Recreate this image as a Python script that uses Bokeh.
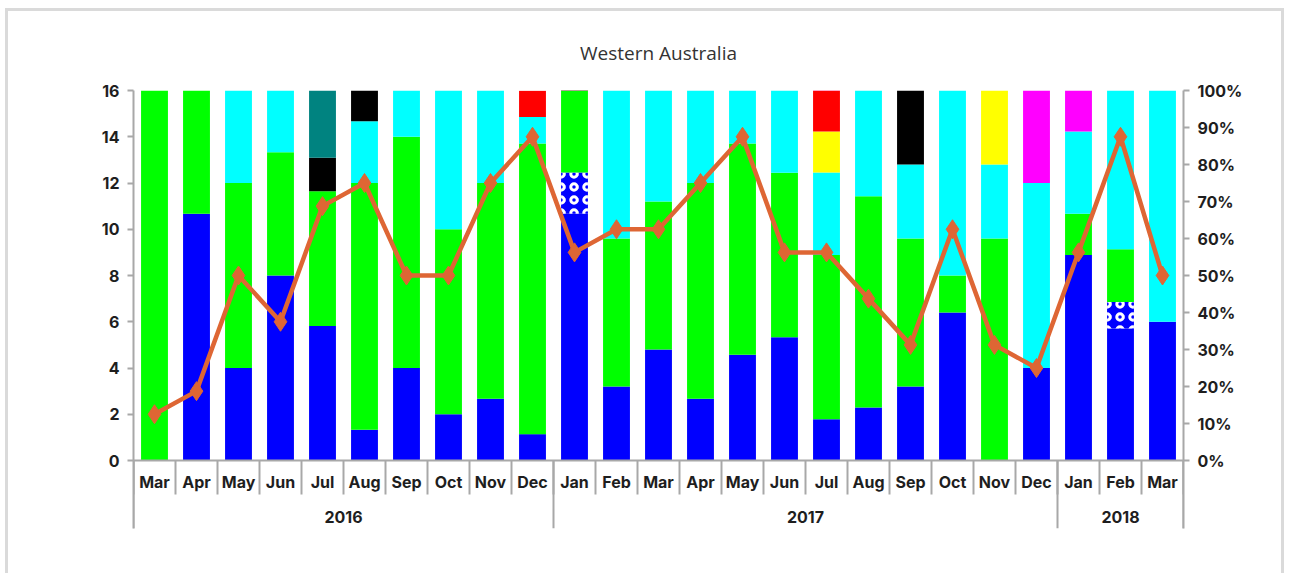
from bokeh.plotting import figure
from bokeh.models import Range1d, LinearAxis, FixedTicker, PrintfTickFormatter, ColumnDataSource
from bokeh.core.properties import value
from bokeh.embed import file_html
from bokeh.resources import INLINE

# ---------------- data ----------------
title_text = "Western Australia"
months = ["Mar", "Apr", "May", "Jun", "Jul", "Aug", "Sep", "Oct", "Nov", "Dec",
          "Jan", "Feb", "Mar", "Apr", "May", "Jun", "Jul", "Aug", "Sep", "Oct", "Nov", "Dec",
          "Jan", "Feb", "Mar"]
years = ["2016", "2017", "2018"]
year_counts = [10, 12, 3]

blue = [0, 10.67, 4, 8, 5.82, 1.33, 4, 2, 2.67, 1.14,
        10.67, 3.2, 4.8, 2.67, 4.57, 5.33, 1.78, 2.29, 3.2, 6.4, 0, 4,
        8.89, 5.71, 6]
checker = [0, 0, 0, 0, 0, 0, 0, 0, 0, 0,
           1.78, 0, 0, 0, 0, 0, 0, 0, 0, 0, 0, 0,
           0, 1.14, 0]
green = [16, 5.33, 8, 5.33, 5.82, 10.67, 10, 8, 9.33, 12.57,
         3.56, 6.4, 6.4, 9.33, 9.14, 7.11, 7.11, 9.14, 6.4, 1.6, 9.6, 0,
         1.78, 2.29, 0]
cyan = [0, 0, 4, 2.67, 0, 2.67, 2, 6, 4, 1.14,
        0, 6.4, 4.8, 4, 2.29, 3.56, 3.56, 4.57, 3.2, 8, 3.2, 8,
        3.56, 6.86, 10]
black = [0, 0, 0, 0, 1.45, 1.33, 0, 0, 0, 0,
         0, 0, 0, 0, 0, 0, 0, 0, 3.2, 0, 0, 0,
         0, 0, 0]
teal = [0, 0, 0, 0, 2.91, 0, 0, 0, 0, 0,
        0, 0, 0, 0, 0, 0, 0, 0, 0, 0, 0, 0,
        0, 0, 0]
yellow = [0, 0, 0, 0, 0, 0, 0, 0, 0, 0,
          0, 0, 0, 0, 0, 0, 1.78, 0, 0, 0, 3.2, 0,
          0, 0, 0]
red = [0, 0, 0, 0, 0, 0, 0, 0, 0, 1.14,
       0, 0, 0, 0, 0, 0, 1.78, 0, 0, 0, 0, 0,
       0, 0, 0]
magenta = [0, 0, 0, 0, 0, 0, 0, 0, 0, 0,
           0, 0, 0, 0, 0, 0, 0, 0, 0, 0, 0, 4,
           1.78, 0, 0]
line_pct = [12.5, 18.75, 50, 37.5, 68.75, 75, 50, 50, 75, 87.5,
            56.25, 62.5, 62.5, 75, 87.5, 56.25, 56.25, 43.75, 31.25, 62.5, 31.25, 25,
            56.25, 87.5, 50]

left_ticks = [0, 2, 4, 6, 8, 10, 12, 14, 16]
right_ticks = [0, 10, 20, 30, 40, 50, 60, 70, 80, 90, 100]

# ---------------- layout constants ----------------
n = len(months)
x = [i + 0.5 for i in range(n)]
Y_MAX = 16
Y_MIN = -2.94
PCT_MIN = Y_MIN / Y_MAX * 100
FONT = "Inter"
AXIS_COLOR = "#a8a8a8"
TEXT_COLOR = "#1e1e1e"

p = figure(width=1279, height=565, output_backend="svg", toolbar_location=None,
           x_range=Range1d(0, n), y_range=Range1d(Y_MIN, Y_MAX),
           min_border_left=125, min_border_right=104, min_border_top=79, min_border_bottom=48)
p.styles = {"border-top": "3px solid #dadada", "border-left": "3px solid #dadada",
            "border-right": "3px solid #dadada", "margin-left": "5px", "margin-top": "8px"}
p.outline_line_color = None
p.grid.visible = False
p.xaxis.visible = False
p.background_fill_color = "white"
p.border_fill_color = "white"

p.title.text = title_text
p.title.align = "center"
p.title.text_font = "Open Sans"
p.title.text_font_style = "normal"
p.title.text_font_size = "19px"
p.title.text_color = "#333333"
p.title.standoff = 49

# stacked bars
src = ColumnDataSource(dict(x=x, blue=blue, checker=checker, green=green, cyan=cyan,
                            black=black, teal=teal, yellow=yellow, red=red, magenta=magenta))
stack_keys = ["blue", "checker", "green", "cyan", "black", "teal", "yellow", "red", "magenta"]
colors = ["#0000FF", "#0000FF", "#00FF00", "#00FFFF", "#000000", "#008380", "#FFFF00", "#FF0000", "#FF00FF"]
renderers = p.vbar_stack(stack_keys, x="x", width=0.64, color=colors, line_color=None, source=src)
chk = renderers[1].glyph
chk.hatch_pattern = "ring"
chk.hatch_color = "white"
chk.hatch_scale = 13
chk.hatch_weight = 3

# right percent axis
p.extra_y_ranges = {"pct": Range1d(PCT_MIN, 100)}
right = LinearAxis(y_range_name="pct")
p.add_layout(right, "right")

for ax in [p.yaxis[0], right]:
    ax.axis_line_color = AXIS_COLOR
    ax.axis_line_width = 2
    ax.major_tick_line_color = AXIS_COLOR
    ax.major_tick_line_width = 2
    ax.major_tick_out = 6
    ax.major_tick_in = 0
    ax.minor_tick_line_color = None
    ax.major_label_text_font = FONT
    ax.major_label_text_font_size = "16px"
    ax.major_label_text_font_style = "bold"
    ax.major_label_text_color = TEXT_COLOR
    ax.major_label_standoff = 8
p.yaxis[0].ticker = FixedTicker(ticks=left_ticks)
right.ticker = FixedTicker(ticks=right_ticks)
right.formatter = PrintfTickFormatter(format="%d%%")

# category axis drawn inside the extended frame
p.segment(x0=[0], y0=[0], x1=[n], y1=[0], line_color=AXIS_COLOR, line_width=2)
p.segment(x0=list(range(n + 1)), y0=[0] * (n + 1), x1=list(range(n + 1)), y1=[-1.47] * (n + 1),
          line_color=AXIS_COLOR, line_width=2)
bounds = [0]
for c in year_counts:
    bounds.append(bounds[-1] + c)
p.segment(x0=bounds, y0=[0] * len(bounds), x1=bounds, y1=[Y_MIN] * len(bounds),
          line_color=AXIS_COLOR, line_width=2)
p.text(x=x, y=[-0.95] * n, text=months, text_align="center", text_baseline="middle",
       text_font=value(FONT), text_font_size="16px", text_font_style="bold", text_color=TEXT_COLOR)
year_x = [(bounds[i] + bounds[i + 1]) / 2 for i in range(len(years))]
p.text(x=year_x, y=[-2.45] * len(years), text=years, text_align="center", text_baseline="middle",
       text_font=value(FONT), text_font_size="16px", text_font_style="bold", text_color=TEXT_COLOR)

# line
LINE_COLOR = "#DE6634"
p.line(x, line_pct, y_range_name="pct", line_color=LINE_COLOR, line_width=4.5)
p.scatter(x, line_pct, y_range_name="pct", marker="diamond", size=19,
          fill_color=LINE_COLOR, line_color=LINE_COLOR)

open("out.html", "w").write(file_html(p, INLINE))
